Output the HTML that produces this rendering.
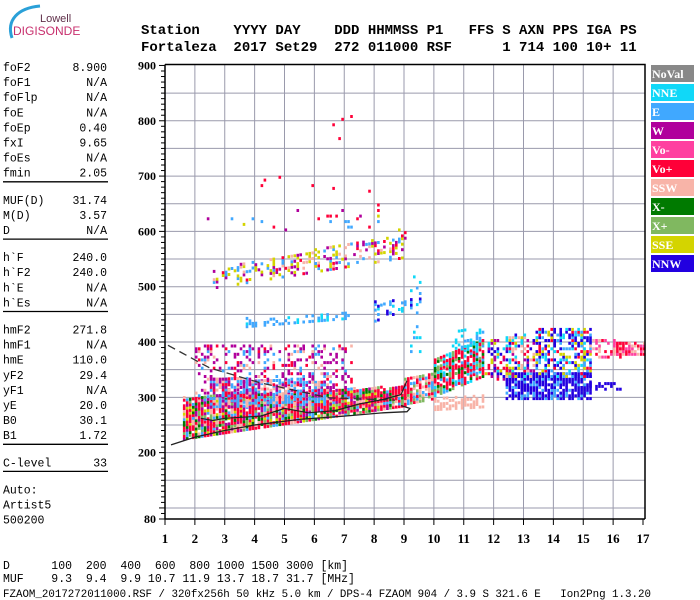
<!DOCTYPE html>
<html><head><meta charset="utf-8"><title>Fortaleza ionogram</title>
<style>
html,body{margin:0;padding:0;background:#fff;}
svg{display:block;}
.mono{font-family:"Liberation Mono",monospace;}
.ser{font-family:"Liberation Serif",serif;font-weight:bold;}
</style></head>
<body>
<svg id="chart" width="700" height="600" viewBox="0 0 700 600" xmlns="http://www.w3.org/2000/svg">
  <g>
    <path d="M12,38 C6,20 18,8 40,6" stroke="#2aa0d8" stroke-width="3" fill="none"/>
    <text x="40" y="22" font-family="Liberation Sans,sans-serif" font-size="11" fill="#60304a">Lowell</text>
    <text x="13" y="35" font-family="Liberation Sans,sans-serif" font-size="12" fill="#c8306e">DIGISONDE</text>
  </g>
  <g class="mono" font-size="14" font-weight="bold">
    <text x="141" y="34" xml:space="preserve">Station    YYYY DAY    DDD HHMMSS P1   FFS S AXN PPS IGA PS</text>
    <text x="141" y="51" xml:space="preserve">Fortaleza  2017 Set29  272 011000 RSF      1 714 100 10+ 11</text>
  </g>
  <g id="params" class="mono" font-size="11.5"></g>
  <g id="plot"></g>
  <g id="legend"></g>
  <g class="mono" font-size="11.5">
    <text x="3" y="569" xml:space="preserve">D      100  200  400  600  800 1000 1500 3000 [km]</text>
    <text x="3" y="582" xml:space="preserve">MUF    9.3  9.4  9.9 10.7 11.9 13.7 18.7 31.7 [MHz]</text>
    <text x="3" y="597" xml:space="preserve" font-size="10.8">FZAOM_2017272011000.RSF / 320fx256h 50 kHz 5.0 km / DPS-4 FZAOM 904 / 3.9 S 321.6 E   Ion2Png 1.3.20</text>
  </g>
</svg>
<script>
// ---- data arrays ----
const paramNames = ["foF2","foF1","foFlp","foE","foEp","fxI","foEs","fmin","|","MUF(D)","M(D)","D","|","h`F","h`F2","h`E","h`Es","|","hmF2","hmF1","hmE","yF2","yF1","yE","B0","B1","|","C-level","|","Auto:","Artist5","500200"];
const paramValues = ["8.900","N/A","N/A","N/A","0.40","9.65","N/A","2.05","","31.74","3.57","N/A","","240.0","240.0","N/A","N/A","","271.8","N/A","110.0","29.4","N/A","20.0","30.1","1.72","","33","","","",""];
const freqTicks = [1,2,3,4,5,6,7,8,9,10,11,12,13,14,15,16,17];
const heightTicks = [900,800,700,600,500,400,300,200,80];
const gridHeights = [850,800,750,700,650,600,550,500,450,400,350,300,250,200,150,100];
const legendNames = ["NoVal","NNE","E","W","Vo-","Vo+","SSW","X-","X+","SSE","NNW"];
const legendColors = ["#888888","#10d8f8","#40a8ff","#b0009c","#ff40a0","#ff0038","#f8b4a8","#007a00","#80b860","#d4d400","#2200e0"];
// echo clusters: frequency range (MHz), lower/upper height at start & end (km)
const cluF0 = [1.6,2.5,2.0,3.7,8.0,9.2,2.6,2.2,9.0,10.0,10.0,10.6,11.7,12.4,12.4,13.4,13.4,15.2,15.2,16.0,4.0,6.5];
const cluF1 = [9.0,6.5,7.2,7.1,9.5,9.5,9.0,9.0,10.0,11.6,11.6,11.6,12.5,13.3,13.3,15.2,15.2,16.2,16.2,17.0,9.0,7.6];
const cluLo0 = [222,280,300,425,435,380,495,600,285,275,300,385,330,295,335,295,335,312,370,375,650,760];
const cluLo1 = [282,285,300,440,465,380,550,600,295,280,335,395,330,295,335,295,335,312,370,375,650,760];
const cluHi0 = [298,335,390,440,470,520,530,650,330,300,365,420,400,340,410,340,420,322,400,395,700,820];
const cluHi1 = [318,325,390,450,480,520,595,650,345,300,400,420,400,340,410,340,420,322,400,395,700,820];
const cluDens = [0.95,0.7,0.3,0.4,0.4,0.14,0.4,0.04,0.85,0.6,0.85,0.3,0.5,0.85,0.45,0.85,0.55,0.4,0.5,0.8,0.02,0.04];
const cluPal = ["5,5,5,8,6,7,3,2,9,5","2,2,3,5,2,6","3,3,3,2,5,6","2,2,2,1","10,2,1","1,1,2","9,9,6,5,2,3","9,2,5,3","5,5,8,6,2","6,6,6","5,5,8,5,2,1,7","1,1,2","10,9,5,3,1","10,10,10,2","10,5,9,3,1,6","10,10,10,2","10,2,5,9,1,10","10,10","5,6,4","5,6,4,5"];
// model curves (freq MHz, height km)
const dashF = [1.1,2.5,4.2,6.5,8.7];
const dashH = [394,353,326,299,295];
const solidF = [1.2,2.0,3.0,4.0,5.5,7.0,8.3,9.1,9.2,8.9];
const solidH = [214,228,240,250,260,266,272,274,280,285];
const profF = [2.2,2.6,3.0,3.6,4.2,5.0,5.8,6.7,7.5,8.3,8.9,9.1];
const profH = [262,258,262,264,266,280,272,276,288,296,305,330];

const NS="http://www.w3.org/2000/svg";
function xS(f){return 165+(f-1)*29.875;}
function yS(h){return 519-(h-80)*0.5531;}
function mk(tag,attrs,parent){const e=document.createElementNS(NS,tag);for(const k in attrs)e.setAttribute(k,attrs[k]);parent.appendChild(e);return e;}

// parameter panel
const pg=document.getElementById('params');
let py=71;
for(let i=0;i<paramNames.length;i++){
  if(paramNames[i]==="|"){
    const ln=mk('line',{x1:3,x2:108,y1:py-10,y2:py-10,stroke:'#000','stroke-width':1.3},pg);
    
    
    py+=12; continue;
  }
  const t=mk('text',{x:3,y:py},pg); t.textContent=paramNames[i];
  
  
  if(paramValues[i]){
    const v=mk('text',{x:107,y:py,'text-anchor':'end'},pg); v.textContent=paramValues[i];
    
    
  }
  py+=15.1;
}

// plot
const pl=document.getElementById('plot');
gridHeights.forEach(h=>{
  const g=mk('line',{x1:165,x2:645,y1:yS(h),y2:yS(h),stroke:'#9a9aac','stroke-width':1},pl);
  
  
});
freqTicks.forEach(f=>{
  if(f>1&&f<17){
    const g=mk('line',{x1:xS(f),x2:xS(f),y1:yS(900)-1,y2:519,stroke:'#9a9aac','stroke-width':1},pl);
    
    
  }
});
// echoes
const cg=mk('g',{},pl);


function hsh(a,b,c){let n=(a*73856093)^(b*19349663)^(c*83492791);n=(n^(n>>>13))*1274126177;n=n^(n>>>16);return ((n>>>0)%10000)/10000;}
for(let k=0;k<cluF0.length;k++){
  const pal=(cluPal[k]||"5").split(',').map(Number);
  const nf=Math.round((cluF1[k]-cluF0[k])/0.1);
  for(let i=0;i<=nf;i++){
    const f=cluF0[k]+i*0.1, t=nf?i/nf:0;
    const lo=cluLo0[k]+(cluLo1[k]-cluLo0[k])*t, hi=cluHi0[k]+(cluHi1[k]-cluHi0[k])*t;
    for(let j=0;lo+j*5<=hi;j++){
      if(hsh(i+1,j+7,k+3)<cluDens[k]){
        const c=pal[Math.floor(hsh(j+11,i+5,k+17)*pal.length)];
        const r=mk('rect',{x:xS(f).toFixed(1),y:(yS(lo+j*5)-3).toFixed(1),width:2.6,height:3,fill:legendColors[c]},cg);
        
        
      }
    }
  }
}
function poly(F,H,attrs,name){
  const p=mk('polyline',Object.assign({points:F.map((f,i)=>xS(f).toFixed(1)+','+yS(H[i]).toFixed(1)).join(' '),fill:'none'},attrs),pl);
  
  
}
poly(dashF,dashH,{stroke:'#333','stroke-width':1.3,'stroke-dasharray':'8,5'},'model-dashed-curve');
poly(solidF,solidH,{stroke:'#222','stroke-width':1.3},'model-solid-curve');
poly(profF,profH,{stroke:'#222','stroke-width':1.2},'trace-profile');
// frame
const fr=mk('path',{d:`M165,${yS(900)-1} H645 V519 M165,${yS(900)-1} V519 H645`,stroke:'#000','stroke-width':1.5,fill:'none'},pl);


// y ticks
for(let h=80;h<=900;h+=10){
  const major=(h%100===0)||h===80;
  const t=mk('line',{x1:major?159:161,x2:165,y1:yS(h),y2:yS(h),stroke:'#000','stroke-width':1},pl);
  
  
}
heightTicks.forEach(h=>{
  const t=mk('text',{x:156,y:yS(h)+4,'text-anchor':'end','font-size':12,class:'ser'},pl); t.textContent=h;
  
  
});
freqTicks.forEach(f=>{
  const t=mk('line',{x1:xS(f),x2:xS(f),y1:519,y2:525,stroke:'#000','stroke-width':1},pl);
  
  
  const l=mk('text',{x:xS(f),y:543,'text-anchor':'middle','font-size':13,class:'ser'},pl); l.textContent=f;
  
  
});
// legend
const lg=document.getElementById('legend');
legendNames.forEach((n,i)=>{
  const r=mk('rect',{x:651,y:65+i*19,width:43,height:17,fill:legendColors[i]},lg);
  
  
  const t=mk('text',{x:652,y:78+i*19,'font-size':12,fill:'#fff',class:'ser'},lg); t.textContent=n;
  
  
});
</script>
</body></html>
